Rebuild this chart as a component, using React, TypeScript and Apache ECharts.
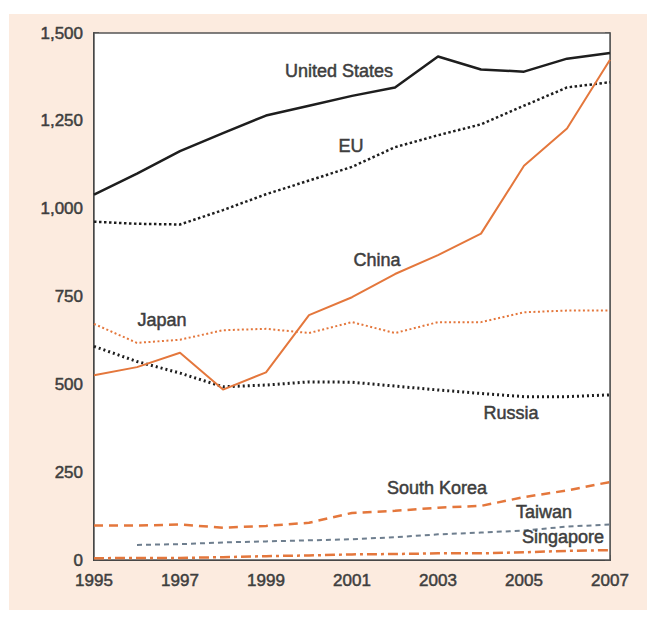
import React, { useEffect, useRef } from "react";
import * as echarts from "echarts";

const years = [1995, 1996, 1997, 1998, 1999, 2000, 2001, 2002, 2003, 2004, 2005, 2006, 2007];
const unitedStates = [1040, 1100, 1164, 1215, 1265, 1293, 1321, 1345, 1433, 1396, 1390, 1427, 1443];
const eu = [963, 957, 955, 996, 1041, 1080, 1119, 1175, 1209, 1240, 1293, 1345, 1360];
const china = [526, 549, 590, 485, 534, 697, 748, 814, 868, 929, 1122, 1228, 1424];
const japan = [672, 618, 627, 654, 658, 646, 677, 646, 677, 677, 705, 710, 710];
const russia = [608, 565, 532, 493, 498, 507, 506, 495, 484, 474, 465, 465, 470];
const southKorea = [98, 98, 101, 92, 97, 106, 134, 140, 149, 154, 179, 198, 222];
const taiwan = [null, 43, 45, 50, 53, 56, 59, 65, 73, 78, 84, 95, 101];
const singapore = [5, 6, 6, 8, 11, 13, 16, 17, 19, 19, 22, 26, 28];

const yMin = 0;
const yMax = 1500;
const yStep = 250;

const ORANGE = "#e4773c";
const BLACK = "#1e1e1e";
const TEXT = "#3e3e3e";
const FONT = "Liberation Sans, Arial, sans-serif";

const pairs = (vals: (number | null)[]) => years.map((y, i) => [y, vals[i]]);

export default function App() {
  const ref = useRef<HTMLDivElement>(null);
  useEffect(() => {
    if (!ref.current) return;
    document.body.style.margin = "0";
    const chart = echarts.init(ref.current, null, { renderer: "svg" });
    const line = (name: string, vals: (number | null)[], color: string, width: number, type: any, z = 2) => ({
      name,
      type: "line",
      data: pairs(vals),
      showSymbol: false,
      symbol: "none",
      connectNulls: false,
      z,
      lineStyle: { color, width, type, cap: "butt", join: "round" },
      emphasis: { disabled: true },
    });
    const label = (text: string, x: number, y: number) => ({
      type: "text",
      x,
      y,
      z: 100,
      style: {
        text,
        fill: TEXT,
        stroke: TEXT,
        lineWidth: 0.5,
        font: `18px ${FONT}`,
        textAlign: "center",
        textVerticalAlign: "middle",
      },
    });
    const tickText = {
      color: TEXT,
      fontSize: 17,
      fontFamily: FONT,
      textBorderColor: TEXT,
      textBorderWidth: 0.5,
    };
    chart.setOption({
      animation: false,
      backgroundColor: "#ffffff",
      grid: {
        left: 94,
        top: 33,
        right: 46,
        bottom: 57,
        show: true,
        backgroundColor: "#ffffff",
        borderColor: "#555555",
        borderWidth: 1.5,
        z: 1,
      },
      xAxis: {
        type: "value",
        min: 1995,
        max: 2007,
        interval: 1,
        axisLine: { show: true, onZero: false, lineStyle: { color: BLACK, width: 2 } },
        axisTick: { show: true, inside: true, length: 5, lineStyle: { color: "#333", width: 1.5 } },
        axisLabel: {
          ...tickText,
          margin: 12,
          formatter: (v: number) => (v % 2 === 1 ? String(v) : ""),
        },
        splitLine: { show: false },
      },
      yAxis: [
        {
          type: "value",
          min: yMin,
          max: yMax,
          interval: yStep,
          axisLine: { show: true, lineStyle: { color: BLACK, width: 2 } },
          axisTick: { show: true, inside: true, length: 5, lineStyle: { color: "#333", width: 1.5 } },
          minorTick: { show: true, splitNumber: 2, length: 5, lineStyle: { color: "#333", width: 1.5 } },
          axisLabel: {
            ...tickText,
            margin: 11,
            formatter: (v: number) => v.toLocaleString("en-US"),
          },
          splitLine: { show: true, lineStyle: { color: "#a8a8a8", width: 1, type: [2, 2] } },
        },
        {
          type: "value",
          position: "right",
          min: yMin,
          max: yMax,
          interval: yStep / 2,
          axisLine: { show: true, lineStyle: { color: "#555", width: 1.5 } },
          axisTick: { show: true, inside: true, length: 5, lineStyle: { color: "#555", width: 1.5 } },
          axisLabel: { show: false },
          splitLine: { show: false },
        },
      ],
      series: [
        line("Singapore", singapore, ORANGE, 2.5, [10, 4, 3, 4]),
        line("Taiwan", taiwan, "#6e7e8e", 2, [5, 4]),
        line("South Korea", southKorea, ORANGE, 2.5, [9, 6]),
        line("Russia", russia, BLACK, 3, [2, 3]),
        line("Japan", japan, ORANGE, 2, [2, 2.5]),
        line("EU", eu, BLACK, 2.5, [2.5, 2.5]),
        line("United States", unitedStates, BLACK, 2.5, "solid", 3),
        line("China", china, ORANGE, 2, "solid", 4),
      ],
      graphic: [
        {
          type: "rect",
          z: -10,
          silent: true,
          shape: { x: 9, y: 14, width: 638, height: 596 },
          style: { fill: "#fcebdf" },
        },
        label("United States", 339, 71),
        label("EU", 351, 146),
        label("China", 377, 260),
        label("Japan", 162, 320),
        label("Russia", 511, 413),
        label("South Korea", 437, 488),
        label("Taiwan", 544, 512),
        label("Singapore", 563, 537),
      ],
    });
    return () => chart.dispose();
  }, []);
  return <div ref={ref} style={{ position: "absolute", left: 0, top: 0, width: 656, height: 617 }} />;
}
